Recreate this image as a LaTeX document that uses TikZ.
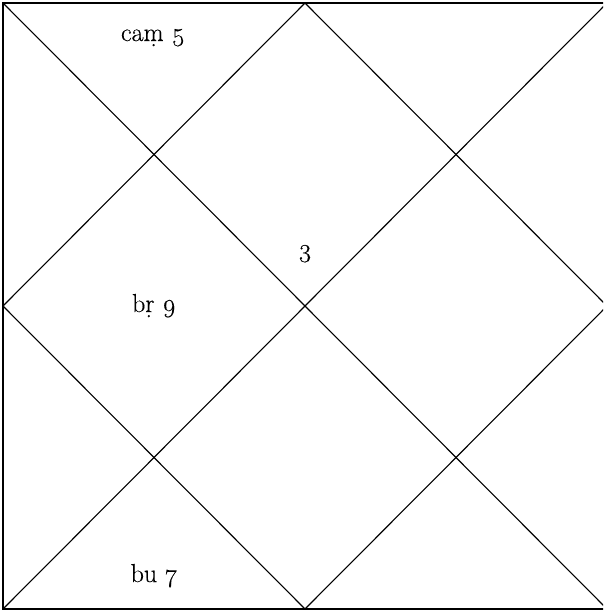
\documentclass[tikz,border=0pt]{standalone}
\usepackage{fontspec}
\setmainfont{Latin Modern Roman}[Numbers=OldStyle]
\newfontfamily\lblfont{Latin Modern Roman}[Numbers=OldStyle,FakeBold=0.35]
\begin{document}
\begin{tikzpicture}[x=1pt,y=-1pt,
  chartline/.style={line width=1.1pt,black},
  lbl/.style={font=\fontsize{26}{30}\lblfont,inner sep=0pt,anchor=base}]
\useasboundingbox (0,0) rectangle (603,611);
\begin{scope}
\clip (0,0) rectangle (603,611);
\coordinate (tl) at (3,3);
\coordinate (tr) at (608,3);
\coordinate (br) at (608,609);
\coordinate (bl) at (3,609);
\coordinate (tm) at (305,3);
\coordinate (rm) at (607,306);
\coordinate (bm) at (305,609);
\coordinate (lm) at (3,306);
\draw[chartline] (tl) -- (tr) -- (br) -- (bl) -- cycle;
\draw[chartline] (tl) -- (607,609);
\draw[chartline] (607,3) -- (bl);
\draw[chartline] (tm) -- (rm) -- (bm) -- (lm) -- cycle;
\end{scope}
\node[lbl] (h1) at (153,41) {caṃ 5};
\node[lbl] (h2) at (305,257) {3};
\node[lbl] (h3) at (154,312) {bṛ 9};
\node[lbl] (h4) at (154,582) {bu 7};
\end{tikzpicture}
\end{document}
